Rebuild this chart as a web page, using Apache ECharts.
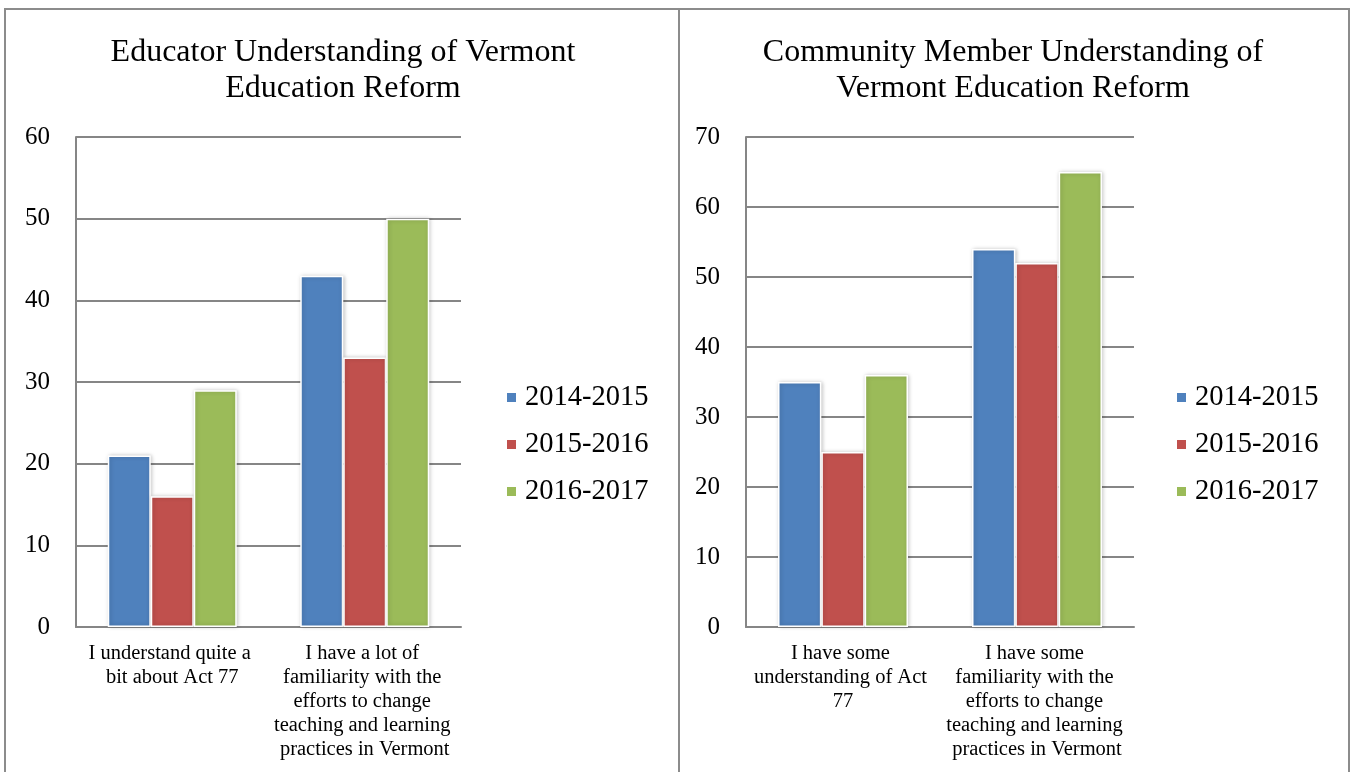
<!DOCTYPE html>
<html>
<head>
<meta charset="utf-8">
<script src="https://cdn.jsdelivr.net/npm/echarts@6/dist/echarts.min.js"></script>
<style>
  html, body { margin: 0; padding: 0; background: #fff; }
  #wrap { position: relative; width: 1351px; height: 772px; overflow: hidden; }
  .frame { position: absolute; border: 2px solid #8c8c8c; border-bottom: none; box-sizing: border-box; }
  #chart { position: absolute; left: 0; top: 0; width: 1351px; height: 772px; }
</style>
</head>
<body>
<div id="wrap">
  <div class="frame" style="left:4px; top:8px; width:676px; height:800px;"></div>
  <div class="frame" style="left:678px; top:8px; width:672px; height:800px;"></div>
  <div id="chart"></div>
</div>
<script>
// Survey years (legend / series names)
const years = ['2014-2015', '2015-2016', '2016-2017'];
const yearColors = ['#4F81BD', '#C0504D', '#9BBB59'];

// Educator survey
const educatorTitle = 'Educator Understanding of Vermont\nEducation Reform';
const educatorCategories = [
  'I understand quite a bit about Act 77',
  'I have a lot of familiarity with the efforts to change teaching and learning practices in Vermont'
];
const educator2014 = [21, 43];
const educator2015 = [16, 33];
const educator2016 = [29, 50];

// Community member survey
const communityTitle = 'Community Member Understanding of\nVermont Education Reform';
const communityCategories = [
  'I have some understanding of Act 77',
  'I have some familiarity with the efforts to change teaching and learning practices in Vermont'
];
const community2014 = [35, 54];
const community2015 = [25, 52];
const community2016 = [36, 65];

const educatorMax = 60;
const communityMax = 70;
const tickStep = 10;

const serif = '"Liberation Serif", "Times New Roman", serif';
const gridGray = '#868686';

function xAxisFor(gridIndex, cats) {
  return {
    type: 'category', gridIndex, data: cats,
    axisLine: { show: true, lineStyle: { color: gridGray, width: 2 } },
    axisTick: { show: false },
    axisLabel: {
      color: '#000', fontFamily: serif, fontSize: 20.5, lineHeight: 24,
      margin: 15, width: 184, overflow: 'break', interval: 0
    }
  };
}
function yAxisFor(gridIndex, max) {
  return {
    type: 'value', gridIndex, min: 0, max, interval: tickStep,
    axisLine: { show: true, lineStyle: { color: gridGray, width: 2 } },
    axisTick: { show: false },
    splitLine: { show: true, lineStyle: { color: gridGray, width: 2 } },
    axisLabel: { color: '#000', fontFamily: serif, fontSize: 25, margin: 26 }
  };
}
function barSeries(name, data, idx, axisIdx) {
  return {
    type: 'bar', name, data,
    xAxisIndex: axisIdx, yAxisIndex: axisIdx,
    barGap: '0%', barCategoryGap: '33%',
    itemStyle: {
      color: yearColors[idx], borderColor: '#fff', borderWidth: 1.5,
      shadowBlur: 4, shadowColor: 'rgba(0,0,0,0.22)', shadowOffsetX: 1, shadowOffsetY: 0
    },
    emphasis: { disabled: true }
  };
}
function legendFor(left) {
  return {
    data: years, orient: 'vertical', left, top: 378,
    itemWidth: 11, itemHeight: 11, itemGap: 18,
    icon: 'rect',
    textStyle: { color: '#000', fontFamily: serif, fontSize: 28.5, lineHeight: 28.5, padding: [0, 0, 0, 3] }
  };
}
const titleStyle = { fontFamily: serif, fontWeight: 'normal', fontSize: 32, lineHeight: 36, color: '#000' };

const chart = echarts.init(document.getElementById('chart'));
chart.setOption({
  animation: false,
  color: yearColors,
  title: [
    { text: educatorTitle, left: 338, top: 30, textAlign: 'center', textStyle: titleStyle },
    { text: communityTitle, left: 1008, top: 30, textAlign: 'center', textStyle: titleStyle }
  ],
  legend: [legendFor(500), legendFor(1170)],
  grid: [
    { left: 76, top: 137, width: 385, height: 490 },
    { left: 746, top: 137, width: 388, height: 490 }
  ],
  xAxis: [xAxisFor(0, educatorCategories), xAxisFor(1, communityCategories)],
  yAxis: [yAxisFor(0, educatorMax), yAxisFor(1, communityMax)],
  series: [
    barSeries(years[0], educator2014, 0, 0),
    barSeries(years[1], educator2015, 1, 0),
    barSeries(years[2], educator2016, 2, 0),
    barSeries(years[0], community2014, 0, 1),
    barSeries(years[1], community2015, 1, 1),
    barSeries(years[2], community2016, 2, 1)
  ]
});
</script>
</body>
</html>
